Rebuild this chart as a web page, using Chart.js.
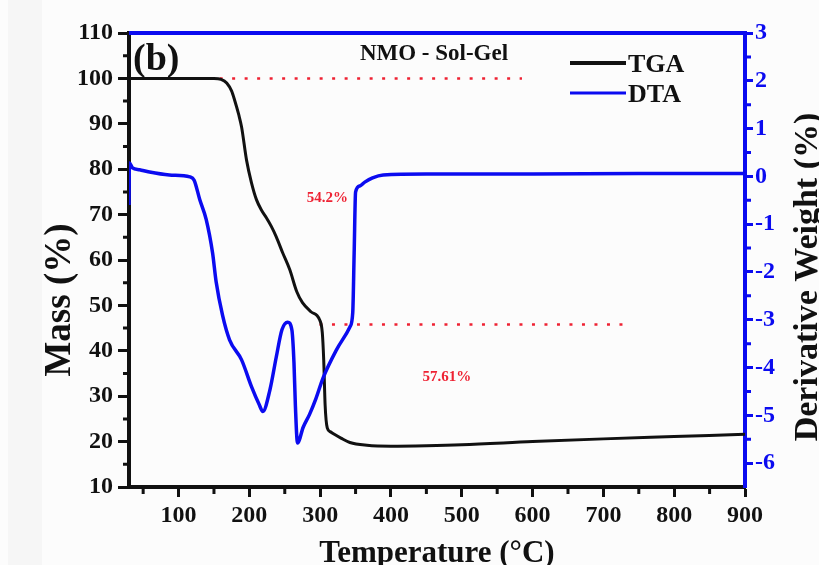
<!DOCTYPE html>
<html>
<head>
<meta charset="utf-8">
<script src="https://cdn.jsdelivr.net/npm/chart.js@4/dist/chart.umd.min.js"></script>
<style>
  html, body { margin: 0; padding: 0; background: #fcfcfc; }
  #wrap { width: 819px; height: 565px; }
</style>
</head>
<body>
<div id="wrap"><canvas id="c" width="819" height="565"></canvas></div>
<script>
// Thermal analysis of NMO prepared by sol-gel: TGA mass loss and DTA derivative curve
const tgaTemp = [30, 150, 160, 168, 175, 179, 185, 189, 196, 203, 210, 217, 224, 231, 238, 247, 257, 267, 275, 287, 299, 303, 305, 307, 310, 314, 320, 330, 342, 366, 400, 450, 500, 600, 700, 800, 900];
const tgaMass = [100, 100, 99.8, 99.0, 97.2, 95.3, 92.0, 89.3, 82.0, 77.0, 73.3, 71.0, 69.3, 67.4, 65.1, 61.6, 57.9, 53.0, 50.6, 48.6, 46.9, 44.0, 38.0, 28.0, 23.0, 22.2, 21.6, 20.7, 19.8, 19.2, 19.0, 19.1, 19.3, 20.0, 20.6, 21.1, 21.6];

const dtaTemp = [30, 30.6, 35, 45, 59, 87, 116, 122, 130, 139, 148, 153, 162, 172, 189, 203, 214, 219, 229, 238, 246, 254, 260, 263, 265, 268, 276, 285, 294, 304, 323, 342, 346, 348, 350, 356, 363, 374, 389, 450, 600, 750, 900];
const dtaDeriv = [-0.6, 0.28, 0.18, 0.14, 0.09, 0.03, -0.01, -0.08, -0.49, -0.9, -1.6, -2.2, -2.9, -3.42, -3.84, -4.4, -4.78, -4.92, -4.47, -3.78, -3.21, -3.05, -3.21, -3.9, -4.8, -5.58, -5.25, -4.98, -4.65, -4.22, -3.63, -3.15, -2.85, -1.6, -0.33, -0.2, -0.12, -0.03, 0.03, 0.05, 0.05, 0.06, 0.06];

// Guide lines marking the two mass-loss steps
const upperGuideTemp = [158, 585];
const upperGuideMass = [100, 100];
const lowerGuideTemp = [299, 740];
const lowerGuideMass = [45.8, 45.8];

// Axis tick labels
const tempTicks = [100, 200, 300, 400, 500, 600, 700, 800, 900];
const tempMinor = [50, 150, 250, 350, 450, 550, 650, 750, 850];
const massTicks = [10, 20, 30, 40, 50, 60, 70, 80, 90, 100, 110];
const massMinor = [15, 25, 35, 45, 55, 65, 75, 85, 95, 105];
const derivTicks = [-6, -5, -4, -3, -2, -1, 0, 1, 2, 3];
const derivMinor = [-5.5, -4.5, -3.5, -2.5, -1.5, -0.5, 0.5, 1.5, 2.5];

const BLUE = '#0b0bf0';
const INK = '#111111';
const RED = '#ee2233';
const SERIF = '"Liberation Serif", "Times New Roman", serif';

const pairs = (xs, ys) => xs.map((x, i) => ({ x: x, y: ys[i] }));

const frame = {
  id: 'frame',
  beforeDraw(chart) {
    const ctx = chart.ctx;
    ctx.save();
    ctx.fillStyle = '#fcfcfc';
    ctx.fillRect(0, 0, chart.width, chart.height);
    ctx.fillStyle = '#f6f6f6';
    ctx.fillRect(8, 0, 34, chart.height);
    ctx.restore();
  },
  afterDraw(chart) {
    const ctx = chart.ctx;
    const a = chart.chartArea;
    const sx = chart.scales.x, sy = chart.scales.y, sr = chart.scales.y1;
    ctx.save();
    // top frame edge
    ctx.strokeStyle = BLUE;
    ctx.lineWidth = 4;
    ctx.beginPath();
    ctx.moveTo(a.left, a.top);
    ctx.lineTo(a.right + 2, a.top);
    ctx.stroke();
    // minor ticks
    ctx.lineWidth = 3;
    ctx.strokeStyle = INK;
    ctx.beginPath();
    tempMinor.forEach(v => { const p = sx.getPixelForValue(v); ctx.moveTo(p, a.bottom); ctx.lineTo(p, a.bottom + 7); });
    massMinor.forEach(v => { const p = sy.getPixelForValue(v); ctx.moveTo(a.left, p); ctx.lineTo(a.left - 6, p); });
    ctx.stroke();
    ctx.strokeStyle = BLUE;
    ctx.beginPath();
    derivMinor.forEach(v => { const p = sr.getPixelForValue(v); ctx.moveTo(a.right, p); ctx.lineTo(a.right + 6, p); });
    ctx.stroke();

    // axis titles
    ctx.fillStyle = INK;
    ctx.textAlign = 'center';
    ctx.textBaseline = 'alphabetic';
    ctx.font = 'bold 31px ' + SERIF;
    ctx.fillText('Temperature (°C)', (a.left + a.right) / 2, 562);

    ctx.save();
    ctx.translate(70, 300);
    ctx.rotate(-Math.PI / 2);
    ctx.font = 'bold 37px ' + SERIF;
    ctx.fillText('Mass (%)', 0, 0);
    ctx.restore();

    ctx.save();
    ctx.translate(817, 277);
    ctx.rotate(-Math.PI / 2);
    ctx.font = 'bold 34px ' + SERIF;
    ctx.fillText('Derivative Weight (%)', 0, 0);
    ctx.restore();

    // panel label and sample name
    ctx.textAlign = 'left';
    ctx.font = 'bold 38px ' + SERIF;
    ctx.fillText('(b)', 133, 70);
    ctx.textAlign = 'center';
    ctx.font = 'bold 23px ' + SERIF;
    ctx.fillText('NMO - Sol-Gel', 434, 60);

    // mass-loss annotations
    ctx.fillStyle = RED;
    ctx.font = 'bold 15px ' + SERIF;
    ctx.textBaseline = 'middle';
    ctx.fillText('54.2%', sx.getPixelForValue(310), sy.getPixelForValue(73.7));
    ctx.fillText('57.61%', sx.getPixelForValue(479), sy.getPixelForValue(34.3));

    // legend
    const items = [chart.data.datasets[0], chart.data.datasets[1]];
    const rows = [63, 93];
    ctx.textAlign = 'left';
    ctx.textBaseline = 'alphabetic';
    ctx.font = 'bold 26px ' + SERIF;
    items.forEach((ds, i) => {
      ctx.strokeStyle = ds.borderColor;
      ctx.lineWidth = i === 0 ? 4 : 3;
      ctx.beginPath();
      ctx.moveTo(570, rows[i]);
      ctx.lineTo(626, rows[i]);
      ctx.stroke();
      ctx.fillStyle = INK;
      ctx.fillText(ds.label, 628, rows[i] + 9);
    });
    ctx.restore();
  }
};

const tickFont = { family: SERIF, size: 24, weight: 'bold' };

new Chart(document.getElementById('c'), {
  type: 'line',
  data: {
    datasets: [
      { label: 'TGA', data: pairs(tgaTemp, tgaMass), yAxisID: 'y', borderColor: INK, borderWidth: 3, pointRadius: 0, fill: false, cubicInterpolationMode: 'monotone', order: 2 },
      { label: 'DTA', data: pairs(dtaTemp, dtaDeriv), yAxisID: 'y1', borderColor: BLUE, borderWidth: 3.5, pointRadius: 0, fill: false, cubicInterpolationMode: 'monotone', order: 1 },
      { label: 'upper step', data: pairs(upperGuideTemp, upperGuideMass), yAxisID: 'y', borderColor: RED, borderWidth: 2.5, borderDash: [3, 9.5], pointRadius: 0, fill: false, order: 3 },
      { label: 'lower step', data: pairs(lowerGuideTemp, lowerGuideMass), yAxisID: 'y', borderColor: RED, borderWidth: 2.5, borderDash: [3, 9.5], pointRadius: 0, fill: false, order: 3 }
    ]
  },
  options: {
    responsive: false,
    devicePixelRatio: 1,
    animation: false,
    layout: { padding: { top: 33, left: 0, right: 0, bottom: 0 } },
    plugins: { legend: { display: false }, tooltip: { enabled: false } },
    scales: {
      x: {
        type: 'linear', min: 30, max: 900,
        afterBuildTicks: s => { s.ticks = tempTicks.map(v => ({ value: v })); },
        afterFit: s => { s.height = 78; },
        ticks: { font: tickFont, color: INK, padding: 4, maxRotation: 0 },
        grid: { drawOnChartArea: false, drawTicks: true, tickLength: 10, tickWidth: 3, tickColor: INK },
        border: { color: INK, width: 4 }
      },
      y: {
        position: 'left', min: 10, max: 110,
        afterBuildTicks: s => { s.ticks = massTicks.map(v => ({ value: v })); },
        afterFit: s => { s.width = 129; },
        ticks: { font: tickFont, color: INK, padding: 5 },
        grid: { drawOnChartArea: false, drawTicks: true, tickLength: 11, tickWidth: 3, tickColor: INK },
        border: { color: INK, width: 4 }
      },
      y1: {
        position: 'right', min: -6.5, max: 3,
        afterBuildTicks: s => { s.ticks = derivTicks.map(v => ({ value: v })); },
        afterFit: s => { s.width = 74; },
        ticks: { font: tickFont, color: BLUE, padding: 2 },
        grid: { drawOnChartArea: false, drawTicks: true, tickLength: 8, tickWidth: 3, tickColor: BLUE },
        border: { color: BLUE, width: 4 }
      }
    }
  },
  plugins: [frame]
});
</script>
</body>
</html>
